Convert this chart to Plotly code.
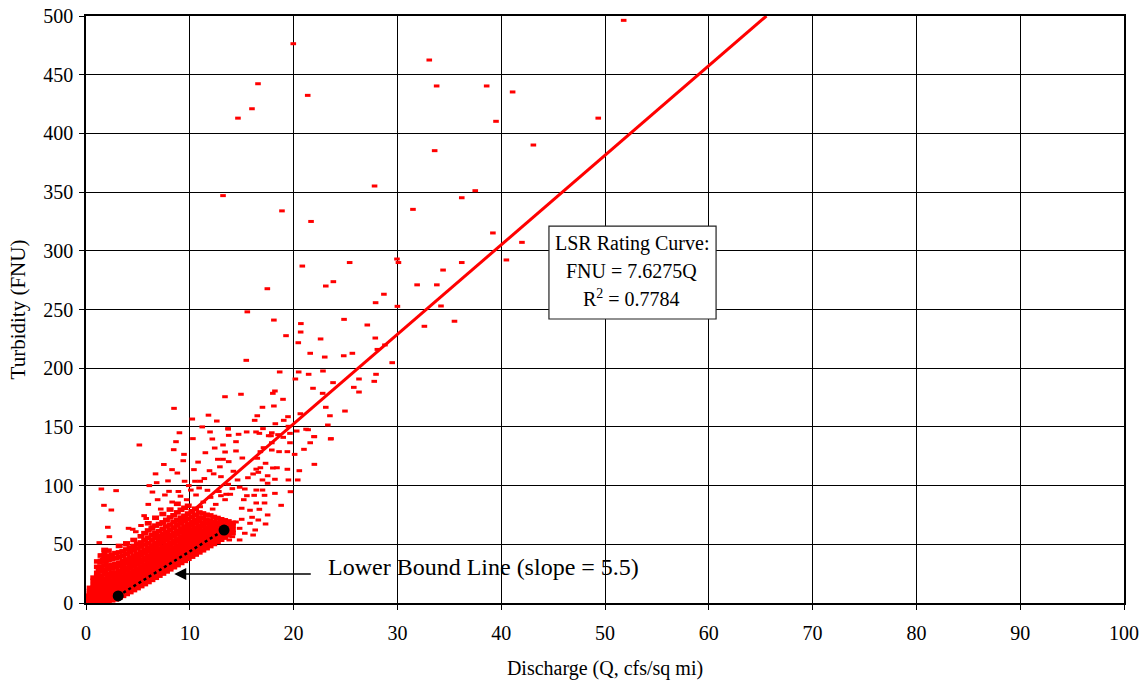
import plotly.graph_objects as go

# ---- Observations: turbidity (FNU) vs unit discharge (Q, cfs/sq mi) ----
# Dense low-flow cloud, stored as discharge columns with the turbidity readings in each
cloud_q = [0.1, 0.4, 0.75, 1.1, 1.45, 1.8, 2.15, 2.5, 2.85, 3.2, 3.55, 3.9, 4.25, 4.6,
           4.95, 5.3, 5.65, 6.0, 6.35, 6.7, 7.05, 7.4, 7.75, 8.1, 8.45, 8.8, 9.15, 9.5,
           9.85, 10.2, 10.55, 10.9, 11.25, 11.6, 11.95, 12.3, 12.65, 13.0, 13.35, 13.7, 14.1]
cloud_fnu = [
    [0.4, 1.3, 2.5, 3.4, 4.8, 6.2],
    [0.5, 1.9, 3.1, 4.9, 6.3, 8.6, 10.2, 12.9],
    [0.7, 2.1, 4.2, 5.9, 8.4, 10.1, 12.9, 15.2, 18.9, 21.6],
    [0.8, 2.7, 4.4, 6.8, 8.6, 11.4, 13.3, 16.3, 18.8, 22.6, 25.7, 30.8, 35.4],
    [1.1, 2.9, 5.3, 7.2, 9.8, 11.8, 14.8, 17.1, 20.4, 23.2, 27.3, 30.6, 35.9, 40.4],
    [1.3, 3.5, 5.5, 8.2, 10.1, 13.0, 15.2, 18.4, 20.7, 24.5, 27.5, 31.9, 35.4, 40.3, 45.2],
    [1.7, 3.7, 6.3, 8.3, 11.1, 13.2, 16.3, 18.5, 22.0, 24.6, 28.6, 31.7, 36.4, 40.1, 44.6],
    [2.3, 4.3, 6.9, 8.8, 11.7, 13.8, 17.0, 19.2, 22.7, 25.3, 29.3, 32.4, 37.2, 41.0],
    [3.1, 5.1, 7.7, 9.6, 12.4, 14.6, 17.7, 19.9, 23.4, 26.0, 30.2, 33.1, 38.1, 42.5],
    [4.5, 6.4, 9.1, 11.0, 13.8, 15.9, 19.0, 21.1, 24.6, 27.1, 31.2, 34.2, 39.0, 43.1, 48.6],
    [6.1, 8.0, 10.7, 12.6, 15.4, 17.5, 20.6, 22.7, 26.2, 28.7, 32.6, 35.6, 40.2, 44.0],
    [7.7, 9.6, 12.3, 14.3, 17.1, 19.2, 22.3, 24.4, 27.9, 30.3, 34.2, 37.1, 41.7, 45.6, 50.8],
    [9.3, 11.2, 13.9, 15.9, 18.7, 20.8, 23.9, 26.0, 29.5, 31.9, 35.8, 38.7, 43.3, 47.1],
    [11.0, 12.9, 15.6, 17.6, 20.4, 22.5, 25.6, 27.7, 31.2, 33.6, 37.5, 40.4, 44.8, 48.6, 53.7],
    [12.7, 14.6, 17.3, 19.3, 22.1, 24.2, 27.3, 29.4, 32.9, 35.3, 39.1, 42.0, 46.5, 50.2],
    [14.4, 16.3, 19.0, 21.0, 23.8, 25.9, 29.0, 31.1, 34.6, 37.0, 40.8, 43.7, 48.1, 51.6, 56.8],
    [16.1, 18.0, 20.7, 22.7, 25.5, 27.6, 30.7, 32.8, 36.3, 38.7, 42.5, 45.4, 49.8, 53.7, 59.5],
    [17.9, 19.8, 22.5, 24.5, 27.3, 29.4, 32.5, 34.6, 38.1, 40.5, 44.3, 47.2, 51.0, 55.6, 61.8, 67.9],
    [19.7, 21.6, 24.3, 26.3, 29.1, 31.2, 34.3, 36.4, 39.9, 42.3, 46.1, 49.0, 53.4, 57.8, 63.5],
    [21.5, 23.4, 26.1, 28.1, 30.9, 33.0, 36.1, 38.2, 41.7, 44.1, 47.9, 50.8, 55.2, 59.7, 65.9, 72.6],
    [23.3, 25.2, 27.9, 29.9, 32.7, 34.8, 37.9, 40.0, 43.5, 45.9, 49.7, 52.6, 57.0, 61.2, 67.3],
    [25.1, 27.0, 29.7, 31.7, 34.5, 36.6, 39.7, 41.8, 45.3, 47.7, 51.5, 54.4, 58.8, 63.1, 68.7, 75.8],
    [26.9, 28.8, 31.5, 33.5, 36.3, 38.4, 41.5, 43.6, 47.1, 49.5, 53.3, 56.2, 60.6, 65.2, 70.8],
    [28.7, 30.6, 33.3, 35.3, 38.1, 40.2, 43.3, 45.4, 48.9, 51.3, 55.1, 58.0, 62.4, 66.8, 72.9, 79.6],
    [30.5, 32.4, 35.1, 37.1, 39.9, 42.0, 45.1, 47.2, 50.7, 53.1, 56.9, 59.8, 64.2, 68.9, 74.7],
    [32.3, 34.2, 36.9, 38.9, 41.7, 43.8, 46.9, 49.0, 52.5, 54.9, 58.7, 61.6, 66.0, 70.6, 77.2, 84.5],
    [34.1, 36.0, 38.7, 40.7, 43.5, 45.6, 48.7, 50.8, 54.3, 56.7, 60.5, 63.4, 67.8, 72.7, 79.4],
    [35.9, 37.8, 40.5, 42.5, 45.3, 47.4, 50.5, 52.6, 56.1, 58.5, 62.3, 65.2, 69.6, 74.3, 81.1],
    [37.7, 39.6, 42.3, 44.3, 47.1, 49.2, 52.3, 54.4, 57.9, 60.3, 64.1, 67.0, 71.4, 76.2, 82.8],
    [39.5, 41.4, 44.1, 46.1, 48.9, 51.0, 54.1, 56.2, 59.7, 62.1, 65.9, 68.8, 73.2, 78.1],
    [41.3, 43.2, 45.9, 47.9, 50.7, 52.8, 55.9, 58.0, 61.5, 63.9, 67.7, 70.6, 75.0, 80.3],
    [43.1, 45.0, 47.7, 49.7, 52.5, 54.6, 57.7, 59.8, 63.3, 65.7, 69.5, 72.8, 77.1],
    [44.9, 46.8, 49.5, 51.5, 54.3, 56.4, 59.5, 61.6, 65.1, 68.4, 72.2, 76.3],
    [46.7, 48.6, 51.3, 53.3, 56.1, 58.2, 61.3, 63.8, 67.6, 71.0, 75.2],
    [48.5, 50.4, 53.1, 55.1, 57.9, 60.4, 63.2, 66.7, 70.1, 74.6],
    [50.3, 52.2, 54.9, 57.2, 59.8, 62.6, 65.7, 69.2, 73.3],
    [52.1, 54.2, 56.8, 59.4, 62.1, 65.3, 68.6, 72.4],
    [53.9, 56.1, 58.7, 61.5, 64.2, 67.8, 71.3],
    [55.7, 58.2, 60.6, 63.7, 66.9, 70.4],
    [57.6, 60.1, 63.2, 66.3, 69.5],
    [59.6, 62.4, 65.8, 68.3],
]

# Scattered observations away from the dense cloud
spread_q = [
    19.97, 33.07, 16.57, 33.78, 21.36, 15.99, 14.64, 33.59, 27.8, 13.2, 18.88, 31.5,
    21.68, 25.4, 29.96, 30.1, 51.8, 38.6, 41.1, 39.5, 49.35, 43.1, 37.5, 36.2, 39.2,
    42.0, 36.2, 40.5, 34.4, 33.8, 34.2, 35.5,
    20.84, 17.47, 23.1, 23.83, 31.9, 28.7, 27.9, 30.0, 15.54, 18.1, 24.86, 20.7, 27.1,
    32.6, 20.68, 19.27, 27.87, 22.6, 20.45, 28.8, 28.07, 21.6, 24.83, 25.66, 23.0,
    15.44, 29.5, 18.66, 20.49, 22.83, 21.45, 27.94, 20.17, 23.8, 26.3, 27.77, 18.2,
    18.0, 13.39, 14.93, 21.87, 25.8, 26.3, 22.8, 18.98, 17.0, 18.1, 23.1, 16.5, 19.46,
    20.65, 23.5, 24.95, 16.25, 19.05, 18.24, 11.95, 12.17, 13.68, 13.75, 14.7, 15.48,
    16.38, 17.05, 17.82, 20.3, 21.4, 21.97, 23.57, 10.24,
    8.48, 5.14, 8.67, 8.45, 9.44, 9.37, 8.29, 8.8, 10.4, 6.81, 9.5, 10.5, 11.0, 1.48,
    2.9, 6.4, 8.0, 10.1, 1.73, 2.44, 5.6, 2.1, 4.1, 2.25, 1.28, 13.7, 13.2, 13.4,
    14.45, 14.45, 12.7, 13.2, 13.75, 15.06, 11.9, 13.0, 14.2, 14.6, 14.8, 13.7, 14.1,
    13.0, 13.5, 13.9, 15.3, 16.4, 17.0, 16.7, 17.6, 17.9, 17.1, 16.8, 17.9, 18.6, 19.4,
    20.1, 21.0, 16.5, 17.3, 16.8, 18.0, 16.4, 18.4, 19.4, 20.55, 22.0, 21.6, 22.0,
    21.2, 23.6, 23.3, 17.0, 18.2, 19.5, 20.4, 15.6, 16.1, 16.6, 17.5, 17.5, 15.5,
    16.2, 17.2, 18.2, 19.7, 15.2, 16.4, 17.2, 18.8, 15.0, 15.8, 16.7, 17.5, 16.0,
    16.6, 17.3, 15.0, 15.8, 16.3, 16.1, 15.3, 14.8, 14.45, 13.8, 13.8, 14.1, 14.8,
    19.65, 19.0, 18.5, 19.5, 19.65, 17.9,
    1.77, 1.45, 1.6, 1.35, 1.93, 2.25, 1.2, 1.67, 0.96, 4.5, 4.8, 5.1, 3.85, 4.65,
    6.7, 7.7, 6.4, 7.4,
    6.0, 6.9, 7.6, 8.3, 9.1, 9.7, 10.6, 11.3, 12.0, 12.5, 7.2, 8.9, 10.9, 11.7, 12.8,
    13.4, 5.3, 5.8, 11.0, 12.2, 9.9, 11.4, 12.3, 12.9, 10.8, 11.5, 12.4, 7.5, 6.7,
    9.0, 7.9, 10.3, 11.2, 12.6, 11.8, 6.1,
]
spread_fnu = [
    476.4, 462.5, 442.3, 440.4, 432.4, 421.0, 413.0, 385.3, 355.2, 347.0, 334.0, 335.3,
    325.0, 290.0, 293.0, 290.0, 496.3, 440.4, 435.3, 410.3, 413.0, 390.1, 351.2, 345.2, 315.2,
    307.2, 290.0, 292.2, 283.6, 271.0, 253.0, 240.0,
    287.0, 267.7, 270.0, 273.7, 271.0, 263.0, 255.8, 252.7, 248.0, 241.0, 241.6, 238.0, 236.8,
    235.7, 230.8, 227.7, 225.7, 224.9, 221.7, 219.8, 216.0, 212.7, 210.6, 212.7, 209.5,
    206.7, 204.7, 196.8, 196.8, 197.6, 194.8, 194.8, 190.8, 187.7, 190.8, 188.8, 180.6,
    178.6, 175.7, 177.8, 182.9, 183.7, 179.7, 178.6, 173.5, 166.7, 167.8, 166.7, 159.5, 158.7,
    161.2, 159.5, 163.5, 155.6, 155.6, 152.7, 145.7, 139.7, 148.5, 142.8, 143.7, 145.7,
    145.7, 148.5, 142.5, 146.5, 147.6, 141.7, 139.7, 156.7,
    165.8, 134.6, 137.4, 130.6, 126.6, 121.2, 113.6, 110.7, 113.6, 102.5, 103.7, 103.7, 103.7, 97.1,
    95.7, 94.5, 95.1, 96.2, 83.2, 79.2, 74.4, 64.5, 63.6, 56.5, 51.4, 148.2, 134.6, 128.6,
    137.4, 129.5, 122.4, 122.4, 120.4, 123.5, 112.7, 107.6, 112.2, 104.8, 98.6, 101.1, 97.4,
    91.4, 92.6, 92.6, 97.1, 96.2, 96.2, 144.5, 142.5, 136.5, 132.3, 128.9, 130.3, 128.9, 128.9,
    126.6, 130.9, 123.3, 119.0, 115.2, 115.0, 114.0, 115.2, 113.9, 112.7, 118.1, 136.5, 141.7,
    148.0, 140.0, 151.6, 104.8, 105.4, 104.8, 104.8, 106.7, 109.9, 111.3, 108.4, 102.0, 91.4,
    91.7, 91.7, 93.4, 94.8, 88.0, 85.2, 85.2, 83.2, 80.7, 79.0, 79.8, 75.0, 73.0,
    70.7, 67.3, 71.3, 67.9, 62.2, 57.9, 59.4, 63.6, 69.0, 65.0, 53.7, 56.5, 53.7,
    136.5, 141.1, 143.4, 150.5, 144.5, 145.0,
    42.3, 40.9, 37.2, 33.8, 33.8, 37.2, 28.1, 28.7, 21.0, 62.8, 60.7, 50.9, 49.4, 46.6,
    57.9, 60.7, 65.0, 67.9,
    84.0, 88.0, 92.0, 86.0, 91.0, 88.0, 92.0, 86.0, 90.0, 84.0, 80.0, 95.0, 98.0, 96.0, 95.0,
    88.0, 66.0, 72.0, 82.0, 80.0, 100.0, 106.0, 110.0, 116.0, 120.0, 128.0, 132.0, 118.0, 110.0,
    145.0, 104.0, 140.0, 150.0, 155.0, 160.0, 100.0,
]

# Fitted rating curve and lower bound
rating_slope = 7.6275
rating_r2 = 0.7784
lower_slope = 5.5
lower_intercept = -11.0
lower_q = [3.1, 13.3]

cloud_x = [q for q, col in zip(cloud_q, cloud_fnu) for _ in col]
cloud_y = [v for col in cloud_fnu for v in col]

rating_q = [0.0, 500.0 / rating_slope]
rating_fnu = [rating_slope * q for q in rating_q]
lower_fnu = [lower_slope * q + lower_intercept for q in lower_q]

SERIF = "Liberation Serif, Times New Roman, serif"

fig = go.Figure()
# the packed low-flow readings overlap into a solid mass, so their dashes are drawn taller
fig.add_trace(go.Scatter(
    x=cloud_x, y=cloud_y, mode="markers",
    marker=dict(symbol="line-ew", size=5, color="red", line=dict(color="red", width=4.6)),
    hoverinfo="x+y", showlegend=False,
))
fig.add_trace(go.Scatter(
    x=spread_q, y=spread_fnu, mode="markers",
    marker=dict(symbol="line-ew", size=4, color="red", line=dict(color="red", width=3)),
    hoverinfo="x+y", showlegend=False,
))
fig.add_trace(go.Scatter(
    x=rating_q, y=rating_fnu, mode="lines",
    line=dict(color="red", width=3), showlegend=False,
))
fig.add_trace(go.Scatter(
    x=lower_q, y=lower_fnu, mode="lines+markers",
    line=dict(color="black", width=2.5, dash="dot"),
    marker=dict(color="black", size=11), showlegend=False,
))

axis_common = dict(
    showgrid=True, gridcolor="black", gridwidth=1,
    showline=True, linecolor="black", linewidth=1.5, mirror=True,
    ticks="outside", ticklen=5, tickcolor="black",
    zeroline=False, automargin=False,
    tickfont=dict(family=SERIF, size=20, color="black"),
)
fig.update_xaxes(range=[0, 100], dtick=10, ticklabelstandoff=6, **axis_common,
                 title=dict(text="Discharge (Q, cfs/sq mi)",
                            font=dict(family=SERIF, size=20, color="black"), standoff=18))
fig.update_yaxes(range=[0, 500], dtick=50, ticklabelstandoff=2, **axis_common,
                 title=dict(text="Turbidity (FNU)",
                            font=dict(family=SERIF, size=21, color="black"), standoff=12))

# Rating curve label box
fig.add_shape(type="rect", xref="x", yref="y", x0=44.6, x1=60.7, y0=241.9, y1=321.1,
              line=dict(color="#222", width=1.2), fillcolor="white", layer="above")
box_lines = ["LSR Rating Curve:", f"FNU = {rating_slope}Q", f"R<sup>2</sup> = {rating_r2}"]
for text, yv in zip(box_lines, [305.8, 282.8, 259.8]):
    fig.add_annotation(x=52.6, y=yv, xref="x", yref="y", text=text, showarrow=False,
                       font=dict(family=SERIF, size=20, color="black"))

# Lower bound callout
fig.add_annotation(x=8.5, y=24.7, ax=21.8, ay=24.7, xref="x", yref="y", axref="x", ayref="y",
                   text="", showarrow=True, arrowhead=2, arrowsize=1.6, arrowwidth=1.5,
                   arrowcolor="black")
fig.add_annotation(x=23.1, y=30.7, xref="x", yref="y", xanchor="left",
                   text=f"Lower Bound Line (slope = {lower_slope})", showarrow=False,
                   font=dict(family=SERIF, size=24, color="black"))

fig.update_layout(
    width=1148, height=688,
    margin=dict(l=86, r=24, t=16, b=85),
    paper_bgcolor="white", plot_bgcolor="white",
    font=dict(family=SERIF, color="black"),
)

fig.write_html("out.html")
